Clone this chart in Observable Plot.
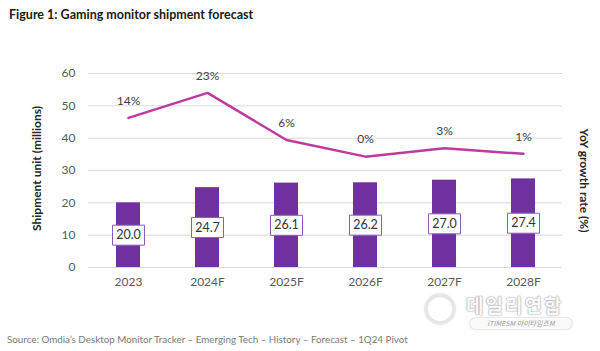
<!DOCTYPE html>
<html><head><meta charset="utf-8">
<script src="https://cdn.jsdelivr.net/npm/d3@7"></script>
<script src="https://cdn.jsdelivr.net/npm/@observablehq/plot@0.6"></script>
<style>
body{margin:0;background:#fff;width:600px;height:351px;overflow:hidden;position:relative;font-family:Lato,"Open Sans",sans-serif;}
#title{position:absolute;left:9px;top:7px;font-size:12.5px;font-weight:700;color:#1a1a1a;}
#chart{position:absolute;left:0;top:30px;}
#source{position:absolute;left:7px;top:333px;font-size:9.8px;color:#7a7a7a;white-space:nowrap;}
#wm{position:absolute;left:420px;top:289px;width:170px;height:44px;pointer-events:none;}
#wm .logo{position:absolute;left:5px;top:5px;width:24px;height:24px;border-radius:50%;border:3px solid #e6e6e6;box-shadow:0 0 2px #aaa;}
#wm .name{position:absolute;left:46px;top:8px;font-family:"Noto Sans CJK KR";font-weight:700;font-size:19px;line-height:16px;color:#fafafa;text-shadow:0 0 2px #9a9a9a,0 0 1px #9a9a9a;letter-spacing:2px;}
#wm .sub{position:absolute;left:50px;top:29px;width:102px;height:11px;border-radius:6px;background:#fafafa;box-shadow:0 0 2px #aaa;font-size:7px;color:#999;text-align:center;line-height:11px;font-family:"Noto Sans CJK KR";font-style:italic;}
</style></head>
<body>
<div id="title">Figure 1: Gaming monitor shipment forecast</div>
<div id="chart"></div>
<div id="source">Source: Omdia’s Desktop Monitor Tracker – Emerging Tech – History – Forecast – 1Q24 Pivot</div>
<div id="wm"><div class="logo"></div><div class="name">데일리연합</div><div class="sub">iTIMESM 아이타임즈M</div></div>
<script>
const years = ["2023","2024F","2025F","2026F","2027F","2028F"];
const shipments = [20.0, 24.7, 26.1, 26.2, 27.0, 27.4];
const growth = [14, 23, 6, 0, 3, 1];
const yTicks = [0,10,20,30,40,50,60];
const growthAxis = [-40, 30]; // hidden secondary axis range

const data = years.map((y,i)=>({year:y, v:shipments[i], g:growth[i]}));
const toPrimary = g => (g - growthAxis[0])/(growthAxis[1]-growthAxis[0])*60;

const boxSymbol = {draw(ctx){ ctx.rect(-16,-10,32,20); }};
const font = "Lato, 'Open Sans', sans-serif";

const plot = Plot.plot({
  width: 600, height: 290,
  marginTop: 43, marginBottom: 53, marginLeft: 88, marginRight: 38,
  style: {fontFamily: font, fontSize: "11.5px", color: "#595959", background: "transparent"},
  x: {domain: years, paddingInner: 0.7, paddingOuter: 0.35, label: null},
  y: {domain: [0,60], label: null},
  marks: [
    Plot.ruleY(yTicks, {stroke: "#d9d9d9", strokeWidth: 1}),
    Plot.axisY({ticks: yTicks, tickSize: 0, tickPadding: 13, label: null, fontSize: 12}),
    Plot.axisX({tickSize: 0, tickPadding: 10, label: null, fontSize: 12}),
    Plot.barY(data, {x: "year", y: "v", fill: "#7030a0"}),
    Plot.dot(data, {x: "year", y: d => d.v/2, symbol: boxSymbol, fill: "white", stroke: "#8a5cb8", strokeWidth: 1}),
    Plot.text(data, {x: "year", y: d => d.v/2, text: d => d.v.toFixed(1), fill: "#333", fontSize: 12.5}),
    Plot.line(data, {x: "year", y: d => toPrimary(d.g), stroke: "#c0399f", strokeWidth: 2.5}),
    Plot.text(data, {x: "year", y: d => toPrimary(d.g), text: d => d.g + "%", dy: -17, fill: "#404040", fontSize: 12}),
    Plot.text(["Shipment unit (millions)"], {frameAnchor: "left", textAnchor: "middle", dx: -51, dy: -2, rotate: -90, fill: "#262626", fontWeight: 700, fontSize: 12}),
    Plot.text(["YoY growth rate (%)"], {frameAnchor: "right", textAnchor: "middle", dx: 21, dy: 10, rotate: 90, fill: "#262626", fontWeight: 700, fontSize: 12})
  ]
});
document.getElementById("chart").appendChild(plot);
</script>
</body></html>
